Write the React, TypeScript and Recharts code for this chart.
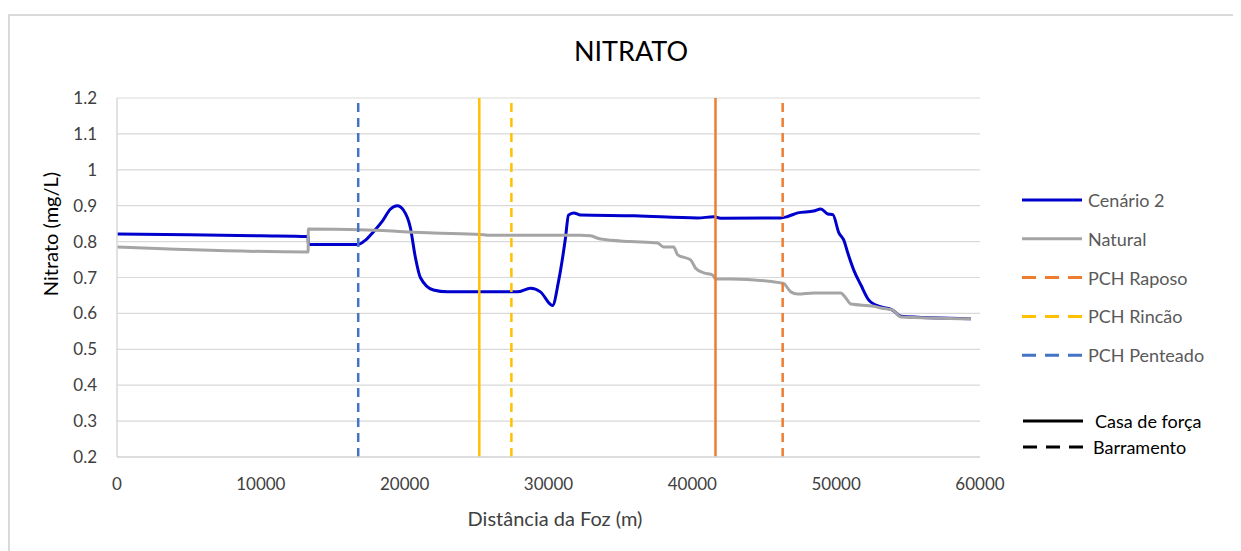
import React from 'react'
import {
  LineChart,
  Line,
  XAxis,
  YAxis,
  CartesianGrid,
  ReferenceLine,
} from 'recharts'

// Cenário 2 (distance m, nitrato mg/L)
const cenarioX = [
  0, 5000, 10000, 13290, 13300, 16770, 17300, 17820, 18500, 19000, 19490, 19910,
  20390, 20740, 21090, 22000, 22970, 27840, 28750, 29440, 30280, 30700, 31180,
  31390, 31740, 32230, 36000, 40370, 41480, 41970, 46150, 46630, 47330, 48440,
  48930, 49420, 49770, 50190, 50530, 50810, 51230, 51720, 52270, 52760, 53940,
  54500, 59370,
]
const cenarioY = [
  0.821, 0.819, 0.816, 0.814, 0.792, 0.792, 0.805, 0.827, 0.86, 0.89, 0.9, 0.888,
  0.84, 0.757, 0.7, 0.665, 0.66, 0.66, 0.67, 0.66, 0.622, 0.69, 0.81,
  0.874, 0.88, 0.874, 0.872, 0.866, 0.869, 0.865, 0.866, 0.87, 0.88, 0.885,
  0.891, 0.877, 0.875, 0.824, 0.804, 0.768, 0.72, 0.679, 0.637, 0.623, 0.609,
  0.592, 0.585,
]

// Natural
const naturalX = [
  0, 13290, 13300, 17400, 22000, 25270, 25750, 32230, 32920, 33620, 35710, 37590,
  38000, 38700, 38980, 39880, 40230, 40790, 41410, 41620, 42670, 46150, 46360,
  46840, 47330, 48440, 50320, 50670, 51020, 52620, 53110, 53940, 54500, 59370,
]
const naturalY = [
  0.785, 0.771, 0.835, 0.832, 0.824, 0.82, 0.818, 0.818, 0.816, 0.807, 0.8, 0.796,
  0.785, 0.785, 0.763, 0.749, 0.726, 0.713, 0.707, 0.696, 0.696, 0.685, 0.683,
  0.66, 0.654, 0.657, 0.657, 0.643, 0.626, 0.62, 0.615, 0.609, 0.59, 0.585,
]

// PCH positions (m)
const pchLines = [
  { name: 'PCH Penteado', kind: 'barramento', x: 16770, color: '#4472C4' },
  { name: 'PCH Rincão', kind: 'casa', x: 25190, color: '#FFC000' },
  { name: 'PCH Rincão', kind: 'barramento', x: 27420, color: '#FFC000' },
  { name: 'PCH Raposo', kind: 'casa', x: 41610, color: '#ED7D31' },
  { name: 'PCH Raposo', kind: 'barramento', x: 46280, color: '#ED7D31' },
]

const xTicks = [0, 10000, 20000, 30000, 40000, 50000, 60000]
const yTicks = [0.2, 0.3, 0.4, 0.5, 0.6, 0.7, 0.8, 0.9, 1, 1.1, 1.2]

const legendItems = [
  { label: 'Cenário 2', color: '#0000CC', dashed: false },
  { label: 'Natural', color: '#A5A5A5', dashed: false },
  { label: 'PCH Raposo', color: '#ED7D31', dashed: true },
  { label: 'PCH Rincão', color: '#FFC000', dashed: true },
  { label: 'PCH Penteado', color: '#4472C4', dashed: true },
]

const cenarioData = cenarioX.map((x, i) => ({ x, y: cenarioY[i] }))
const naturalData = naturalX.map((x, i) => ({ x, y: naturalY[i] }))

const font = 'Lato, "Open Sans", sans-serif'

export default function App() {
  return (
    <div style={{ position: 'relative', width: 1233, height: 543, fontFamily: font }}>
      <div style={{
        position: 'absolute', left: 0, top: 6, width: 1240, height: 560,
        borderLeft: '2px solid #d9d9d9', borderTop: '2px solid #d9d9d9',
      }} />
      <div style={{
        position: 'absolute', left: 0, width: 1246, top: 27, textAlign: 'center',
        fontSize: 27, color: '#000', lineHeight: '32px',
      }}>NITRATO</div>

      <div style={{ position: 'absolute', left: 0, top: 0 }}>
        <LineChart
          width={1233}
          height={543}
          margin={{ top: 90, right: 261, left: 49, bottom: 44 }}
          style={{ fontFamily: font }}
        >
          <CartesianGrid vertical={false} stroke="#d9d9d9" strokeWidth={1.2} />
          <XAxis
            type="number"
            dataKey="x"
            domain={[0, 60000]}
            ticks={xTicks}
            allowDuplicatedCategory={false}
            height={50}
            tickLine={false}
            tickSize={0}
            tickMargin={21}
            axisLine={{ stroke: '#d9d9d9', strokeWidth: 1.5 }}
            tick={{ fill: '#404040', fontSize: 17 }}
            label={{
              content: () => (
                <text x={547} y={518} textAnchor="middle" fill="#404040" fontSize={20}>
                  Distância da Foz (m)
                </text>
              ),
            }}
          />
          <YAxis
            type="number"
            domain={[0.2, 1.2]}
            ticks={yTicks}
            width={60}
            tickLine={false}
            tickSize={0}
            tickMargin={20}
            tickFormatter={(v: number) => String(v)}
            axisLine={{ stroke: '#d9d9d9', strokeWidth: 1.5 }}
            tick={{ fill: '#404040', fontSize: 17 }}
            label={{
              content: () => (
                <text
                  x={42}
                  y={226}
                  textAnchor="middle"
                  dominantBaseline="central"
                  fill="#000"
                  fontSize={20}
                  transform="rotate(-90 42 226)"
                >
                  Nitrato (mg/L)
                </text>
              ),
            }}
          />
          <Line
            data={cenarioData}
            dataKey="y"
            type="monotone"
            stroke="#0000CC"
            strokeWidth={3}
            dot={false}
            isAnimationActive={false}
          />
          <Line
            data={naturalData}
            dataKey="y"
            type="monotone"
            stroke="#A5A5A5"
            strokeWidth={3}
            dot={false}
            isAnimationActive={false}
          />
          {pchLines.map((p, i) => (
            <ReferenceLine
              key={i}
              x={p.x}
              stroke={p.color}
              strokeWidth={2.5}
              strokeDasharray={p.kind === 'barramento' ? '9 6' : undefined}
            />
          ))}
        </LineChart>
      </div>

      <svg
        width={241}
        height={300}
        style={{ position: 'absolute', left: 992, top: 172, overflow: 'visible' }}
      >
        {legendItems.map((it, i) => {
          const y = 20 + i * 38.8
          return (
            <g key={it.label}>
              <line
                x1={22}
                x2={82}
                y1={y}
                y2={y}
                stroke={it.color}
                strokeWidth={3}
                strokeDasharray={it.dashed ? '14 9' : undefined}
              />
              <text x={88} y={y} dominantBaseline="central" fill="#595959" fontSize={18} fontFamily={font}>
                {it.label}
              </text>
            </g>
          )
        })}
        <line x1={23} x2={83} y1={241} y2={241} stroke="#000" strokeWidth={3} />
        <text x={95} y={241} dominantBaseline="central" fill="#000" fontSize={18} fontFamily={font}>
          Casa de força
        </text>
        <line x1={23} x2={83} y1={267} y2={267} stroke="#000" strokeWidth={3} strokeDasharray="14 9" />
        <text x={93} y={267} dominantBaseline="central" fill="#000" fontSize={18} fontFamily={font}>
          Barramento
        </text>
      </svg>
    </div>
  )
}
